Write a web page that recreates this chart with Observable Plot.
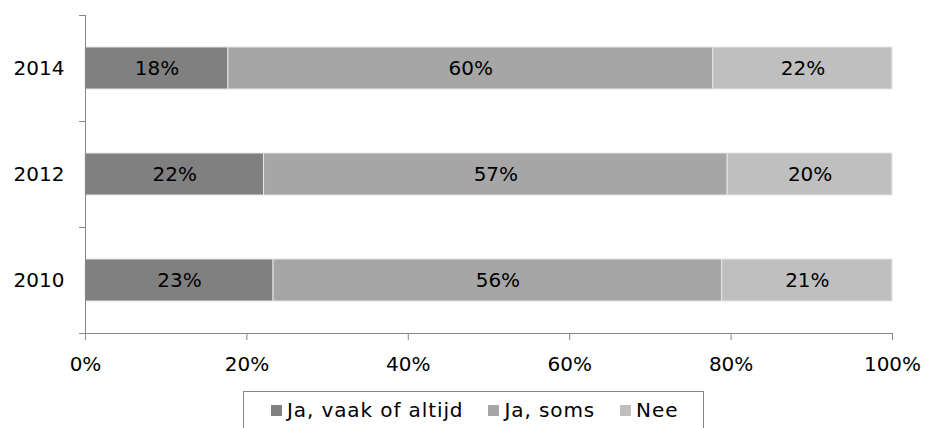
<!DOCTYPE html>
<html>
<head>
<meta charset="utf-8">
<script src="https://cdn.jsdelivr.net/npm/d3@7"></script>
<script src="https://cdn.jsdelivr.net/npm/@observablehq/plot@0.6"></script>
<style>
  html, body { margin: 0; padding: 0; background: #fff; }
  #wrap { position: relative; width: 925px; height: 428px; overflow: hidden; font-family: "DejaVu Sans", Verdana, sans-serif; }
  #legend { position: absolute; left: 243px; top: 391px; width: 461px; height: 44px; border: 1px solid #868686; box-sizing: border-box; display: flex; align-items: flex-start; padding-top: 6px; padding-left: 27px; font-size: 20px; letter-spacing: 0.9px; color: #000; }
  .item { display: flex; align-items: center; margin-right: 25px; white-space: nowrap; }
  .sw { width: 11px; height: 11px; margin-right: 5px; display: inline-block; }
</style>
</head>
<body>
<div id="wrap">
  <div id="chart"></div>
  <div id="legend"></div>
</div>
<script>
const years = ["2014", "2012", "2010"];
const categories = ["Ja, vaak of altijd", "Ja, soms", "Nee"];
const colors = ["#808080", "#a6a6a6", "#bfbfbf"];
// values per year, in category order
const v2014 = [17.7, 60.1, 22.2];
const v2012 = [22.1, 57.4, 20.4];
const v2010 = [23.3, 55.6, 21.1];
const xTicks = [0, 0.2, 0.4, 0.6, 0.8, 1];

const series = { "2014": v2014, "2012": v2012, "2010": v2010 };
const data = [];
for (const y of years) {
  series[y].forEach((v, i) => data.push({ year: y, cat: categories[i], value: v }));
}

const stackOpts = { x: "value", y: "year", offset: "normalize", order: categories };

function axisFrame(index, scales, values, dimensions) {
  const sy = scales.y;
  const bw = sy.bandwidth();
  const step = sy.step ? sy.step() : bw / 0.4;
  const half = step / 2;
  const x0 = dimensions.marginLeft;
  const x1 = dimensions.width - dimensions.marginRight;
  const g = d3.create("svg:g").attr("stroke", "#868686").attr("stroke-width", 1).attr("fill", "none");
  const centers = years.map(y => sy(y) + bw / 2);
  const ys = centers.map(c => c - half).concat([centers[centers.length - 1] + half]);
  g.selectAll("line.t").data(ys).join("line")
    .attr("x1", x0 - 6).attr("x2", x0)
    .attr("y1", d => Math.round(d) + 0.5).attr("y2", d => Math.round(d) + 0.5);
  g.append("line")
    .attr("x1", x0 + 0.5).attr("x2", x0 + 0.5)
    .attr("y1", Math.round(ys[0])).attr("y2", Math.round(ys[ys.length - 1]) + 1);
  const yb = Math.round(ys[ys.length - 1]) + 0.5;
  g.append("line").attr("x1", x0).attr("x2", x1 + 0.5).attr("y1", yb).attr("y2", yb);
  return g.node();
}

const chart = Plot.plot({
  width: 925,
  height: 385,
  marginLeft: 85,
  marginRight: 33,
  marginTop: 15,
  marginBottom: 52,
  style: { fontFamily: "'DejaVu Sans', Verdana, sans-serif", fontSize: "20px", color: "#000", background: "#fff", overflow: "visible" },
  x: { domain: [0, 1], ticks: xTicks, tickFormat: d3.format(".0%") },
  y: { domain: years, paddingInner: 0.6, paddingOuter: 0.3 },
  color: { domain: categories, range: colors },
  marks: [
    Plot.barX(data, Plot.stackX({ ...stackOpts, fill: "cat", stroke: "#e6e6e6", strokeWidth: 1 })),
    Plot.text(data, Plot.stackX({ ...stackOpts, z: "cat", text: d => Math.round(d.value) + "%", fill: "#000", fontSize: 20 })),
    Plot.axisY({ tickSize: 0, tickPadding: 21, label: null, fontSize: 20 }),
    Plot.axisX({ ticks: xTicks, tickSize: 7, tickPadding: 16, label: null, fontSize: 20, stroke: "#868686", tickFormat: d3.format(".0%") }),
    axisFrame
  ]
});
document.getElementById("chart").appendChild(chart);

const legend = document.getElementById("legend");
categories.forEach((c, i) => {
  const it = document.createElement("div");
  it.className = "item";
  const sw = document.createElement("span");
  sw.className = "sw";
  sw.style.background = colors[i];
  const t = document.createElement("span");
  t.textContent = c;
  it.appendChild(sw); it.appendChild(t);
  legend.appendChild(it);
});
</script>
</body>
</html>
